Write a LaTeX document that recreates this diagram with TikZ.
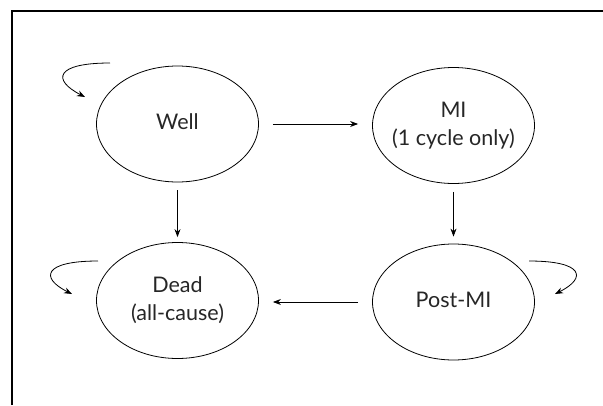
\documentclass[tikz,border=0pt]{standalone}
\usepackage{fontspec}
\setmainfont{Lato}
\usetikzlibrary{shapes.geometric,arrows.meta}
\tikzset{
  state/.style={ellipse,draw,line width=0.8pt,inner sep=0pt,minimum width=162pt,minimum height=116pt,font=\fontsize{21.5}{28}\selectfont,text=black!85},
  conn/.style={line width=0.8pt,-{Stealth[length=8pt,width=6pt]}},
  frameline/.style={line width=1.3pt}
}
\newcommand{\stlabel}[1]{\makebox[0pt]{\begin{tabular}{@{}c@{}}#1\end{tabular}}}
\begin{document}
\begin{tikzpicture}[x=1pt,y=-1pt]
\useasboundingbox (0,0) rectangle (603,405);
\coordinate (fbl) at (12,405);
\coordinate (ftl) at (12,11);
\coordinate (ftr) at (603,11);
\draw[frameline] (fbl) -- (ftl) -- (ftr);
\node[state] (well) at (177.5,124) {\stlabel{Well}};
\node[state] (mi) at (453.5,125.5) {\stlabel{MI\\(1 cycle only)}};
\node[state] (dead) at (177.5,300.5) {\stlabel{Dead\\(all-cause)}};
\node[state] (post) at (453.5,302) {\stlabel{Post-MI}};
\draw[conn,shorten <=14pt,shorten >=14pt] (well.east) -- (well.east -| mi.west);
\draw[conn,shorten <=8pt,shorten >=5pt] (well.south) -- (dead.north);
\draw[conn,shorten <=8pt,shorten >=7pt] (mi.south) -- (post.north);
\draw[conn,shorten <=14pt,shorten >=14pt] (post.west) -- (post.west -| dead.east);
\coordinate (wl1) at (110,63);
\coordinate (wl2) at (85,97);
\draw[conn] (wl1) .. controls (55,63) and (52,80) .. (wl2);
\coordinate (dl1) at (98,261);
\coordinate (dl2) at (72,294);
\draw[conn] (dl1) .. controls (43,261) and (40,278) .. (dl2);
\coordinate (pl1) at (529,261);
\coordinate (pl2) at (555,294);
\draw[conn] (pl1) .. controls (584,261) and (587,278) .. (pl2);
\end{tikzpicture}
\end{document}
